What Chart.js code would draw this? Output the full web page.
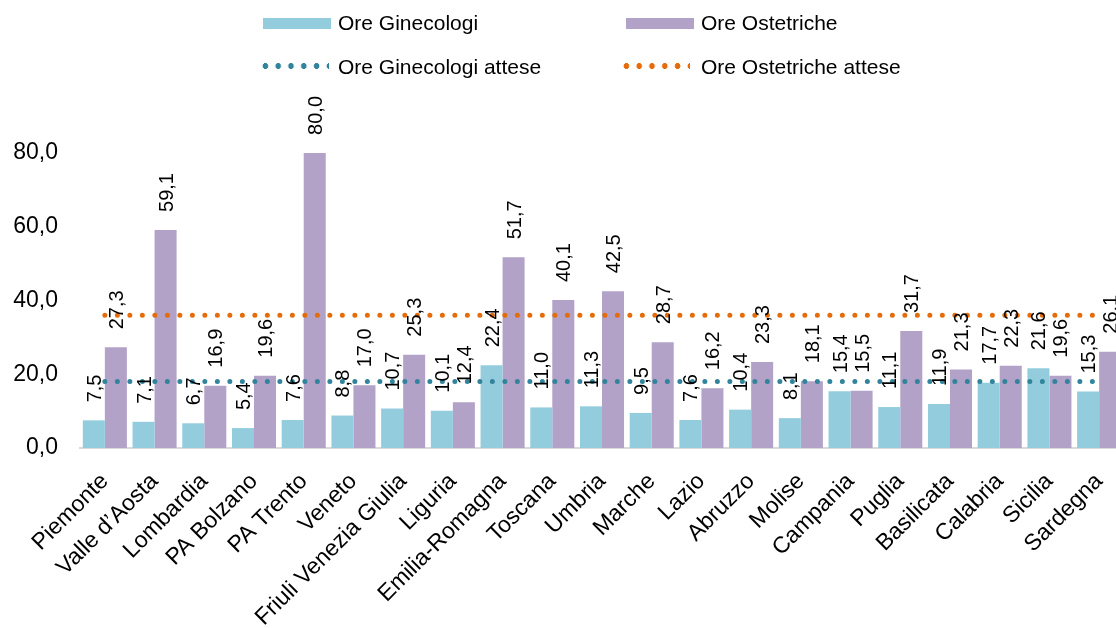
<!DOCTYPE html>
<html>
<head>
<meta charset="utf-8">
<script src="https://cdn.jsdelivr.net/npm/chart.js@4.4.1/dist/chart.umd.min.js"></script>
<style>
  html, body { margin: 0; padding: 0; background: #fff; overflow: hidden; }
  #wrap { position: relative; width: 1116px; height: 628px; overflow: hidden; }
  #chart { position: absolute; left: 0; top: 0; }
  .leg { position: absolute; font-family: "Liberation Sans", Arial, sans-serif; font-size: 21px; color: #000; white-space: nowrap; line-height: 21px; }
  .sw { position: absolute; height: 11px; width: 68px; }
  .dots { position: absolute; height: 6px; width: 70px; }
</style>
</head>
<body>
<div id="wrap">
  <canvas id="chart" width="1124" height="628"></canvas>
  <div class="sw" style="left:263px;top:18px;background:#93CDDD"></div>
  <div class="leg" style="left:338px;top:12px">Ore Ginecologi</div>
  <div class="sw" style="left:626px;top:18px;background:#B3A2C7"></div>
  <div class="leg" style="left:701px;top:12px">Ore Ostetriche</div>
  <div class="dots" style="left:259px;top:63px;background:radial-gradient(circle, #31849B 2.7px, transparent 3.1px) 0 0 / 12.8px 6px repeat-x"></div>
  <div class="leg" style="left:338px;top:56px">Ore Ginecologi attese</div>
  <div class="dots" style="left:620px;top:63px;background:radial-gradient(circle, #E46C0A 2.7px, transparent 3.1px) 0 0 / 12.8px 6px repeat-x"></div>
  <div class="leg" style="left:701px;top:56px">Ore Ostetriche attese</div>
</div>
<script>
const regioni = ['Piemonte', 'Valle d\u2019Aosta', 'Lombardia', 'PA Bolzano', 'PA Trento', 'Veneto',
    'Friuli Venezia Giulia', 'Liguria', 'Emilia-Romagna', 'Toscana', 'Umbria', 'Marche', 'Lazio',
    'Abruzzo', 'Molise', 'Campania', 'Puglia', 'Basilicata', 'Calabria', 'Sicilia', 'Sardegna'];
const oreGinecologi = [7.5, 7.1, 6.7, 5.4, 7.6, 8.8, 10.7, 10.1, 22.4, 11.0, 11.3, 9.5, 7.6, 10.4, 8.1, 15.4, 11.1, 11.9, 17.7, 21.6, 15.3];
const oreOstetriche = [27.3, 59.1, 16.9, 19.6, 80.0, 17.0, 25.3, 12.4, 51.7, 40.1, 42.5, 28.7, 16.2, 23.3, 18.1, 15.5, 31.7, 21.3, 22.3, 19.6, 26.1];
const oreGinecologiAttese = regioni.map(() => 18);
const oreOstetricheAttese = regioni.map(() => 36);
const yTicks = [0, 20, 40, 60, 80];

const fmt = v => v.toFixed(1).replace('.', ',');
const FONT = '"Liberation Sans", Arial, sans-serif';

// etichette verticali sopra le barre
const barLabels = {
    id: 'barLabels',
    afterDatasetsDraw(chart) {
        const ctx = chart.ctx;
        ctx.save();
        ctx.font = '20px ' + FONT;
        ctx.fillStyle = '#000';
        ctx.textAlign = 'left';
        ctx.textBaseline = 'middle';
        chart.data.datasets.forEach((ds, i) => {
            if (ds.type === 'line') return;
            chart.getDatasetMeta(i).data.forEach((bar, j) => {
                ctx.save();
                ctx.translate(bar.x + 1.5, bar.y - 18);
                ctx.rotate(-Math.PI / 2);
                ctx.fillText(fmt(ds.data[j]), 0, 0);
                ctx.restore();
            });
        });
        ctx.restore();
    }
};

const ctx = document.getElementById('chart').getContext('2d');
new Chart(ctx, {
    type: 'bar',
    data: {
        labels: regioni,
        datasets: [
            {
                label: 'Ore Ginecologi',
                data: oreGinecologi,
                backgroundColor: '#93CDDD',
                categoryPercentage: 0.886,
                barPercentage: 1.0,
                order: 2
            },
            {
                label: 'Ore Ostetriche',
                data: oreOstetriche,
                backgroundColor: '#B3A2C7',
                categoryPercentage: 0.886,
                barPercentage: 1.0,
                order: 2
            },
            {
                type: 'line',
                label: 'Ore Ginecologi attese',
                data: oreGinecologiAttese,
                borderColor: '#31849B',
                borderWidth: 5,
                borderDash: [0, 12.5],
                borderCapStyle: 'round',
                pointRadius: 0,
                fill: false,
                order: 0
            },
            {
                type: 'line',
                label: 'Ore Ostetriche attese',
                data: oreOstetricheAttese,
                borderColor: '#E46C0A',
                borderWidth: 5,
                borderDash: [0, 12.5],
                borderCapStyle: 'round',
                pointRadius: 0,
                fill: false,
                order: 0
            }
        ]
    },
    options: {
        responsive: false,
        animation: false,
        devicePixelRatio: 1,
        layout: {
            padding: { top: 116, right: 0, bottom: 0, left: 0 }
        },
        plugins: {
            legend: { display: false },
            tooltip: { enabled: false }
        },
        scales: {
            x: {
                grid: { display: false, drawTicks: false },
                border: { display: true, color: '#D9D9D9', width: 2 },
                ticks: {
                    autoSkip: false,
                    maxRotation: 45,
                    minRotation: 45,
                    padding: 20,
                    color: '#000',
                    font: { family: FONT, size: 23 }
                },
                afterFit(scale) {
                    scale.height = 180;
                    scale.paddingLeft = 0;
                    scale.paddingRight = 0;
                }
            },
            y: {
                min: 0,
                max: 90,
                grid: { display: false, drawTicks: false },
                border: { display: false },
                afterBuildTicks(scale) {
                    scale.ticks = yTicks.map(v => ({ value: v }));
                },
                ticks: {
                    padding: 22,
                    color: '#000',
                    font: { family: FONT, size: 23 },
                    callback: v => fmt(v)
                },
                afterFit(scale) { scale.width = 80; }
            }
        }
    },
    plugins: [barLabels]
});
</script>
</body>
</html>
